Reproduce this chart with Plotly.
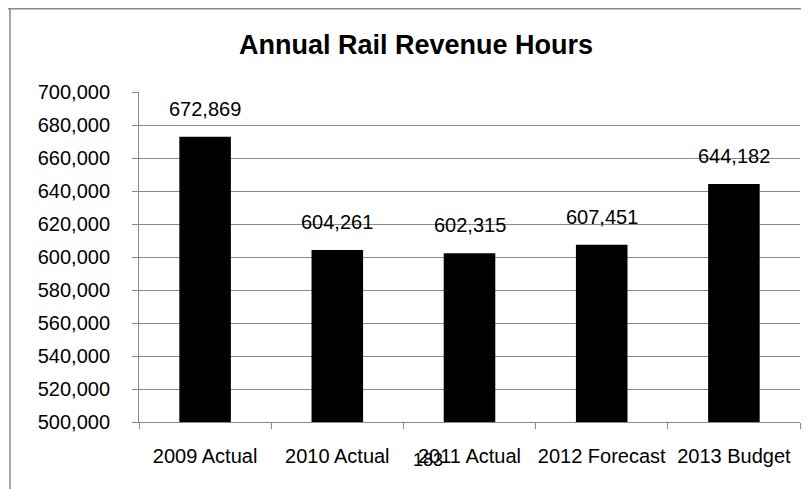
import plotly.graph_objects as go

categories = ["2009 Actual", "2010 Actual", "2011 Actual", "2012 Forecast", "2013 Budget"]
values = [672869, 604261, 602315, 607451, 644182]
y_ticks = list(range(500000, 700001, 20000))
y_tick_labels = [f"{v:,}" for v in y_ticks]
value_labels = [f"{v:,}" for v in values]
page_number = "183"

FONT = "Liberation Sans, Arial, sans-serif"
GRAY = "#898989"

fig = go.Figure(go.Bar(
    x=categories, y=values,
    marker=dict(color="black", line=dict(width=0)),
    width=0.39,
    cliponaxis=False,
    hoverinfo="x+y",
))

# the page body has an 8px margin; reference pixel p maps to figure pixel p - 8
OFF = 8
W, H = 801, 481
L, R, T, B = 139 - OFF, W - (800 - OFF), 92 - OFF, H - (422 - OFF)
pw, ph = W - L - R, H - T - B

def px_x(p):
    return (p - OFF - L) / pw

def px_y(p):
    return (H - B - (p - OFF)) / ph

annotations = [
    dict(x=c, y=v, xref="x", yref="y", text=t, showarrow=False,
         yshift=28, xanchor="center", yanchor="middle",
         font=dict(family=FONT, size=20, color="black"))
    for c, v, t in zip(categories, values, value_labels)
]
annotations.append(
    dict(text=page_number, xref="paper", yref="paper", x=px_x(428), y=px_y(460),
         showarrow=False, font=dict(family=FONT, size=18, color="black"),
         xanchor="center", yanchor="middle")
)

fig.update_layout(
    width=W, height=H,
    margin=dict(l=L, r=R, t=T, b=B, autoexpand=False),
    paper_bgcolor="white", plot_bgcolor="white",
    showlegend=False,
    title=dict(text="<b>Annual Rail Revenue Hours</b>", x=px_x(416), xref="paper",
               xanchor="center", y=1 - (45 - OFF) / H, yanchor="middle",
               font=dict(family=FONT, size=27, color="black")),
    xaxis=dict(
        type="category", showline=True, linecolor=GRAY, linewidth=1,
        ticks="outside", tickson="boundaries", ticklen=6, tickcolor=GRAY,
        tickangle=0,
        tickfont=dict(family=FONT, size=20, color="black"),
        ticklabelstandoff=16,
        showgrid=False, fixedrange=True,
    ),
    yaxis=dict(
        range=[500000, 700000], tickvals=y_ticks, ticktext=y_tick_labels,
        showline=True, linecolor=GRAY, linewidth=1,
        ticks="outside", ticklen=6, tickcolor=GRAY,
        ticklabelstandoff=18,
        showgrid=True, gridcolor=GRAY, gridwidth=1,
        tickfont=dict(family=FONT, size=20, color="black"),
        zeroline=False, fixedrange=True,
    ),
    shapes=[
        dict(type="line", xref="paper", yref="paper",
             x0=px_x(OFF), x1=px_x(809), y0=px_y(OFF + 0.75), y1=px_y(OFF + 0.75),
             line=dict(color=GRAY, width=1.5)),
        dict(type="line", xref="paper", yref="paper",
             x0=px_x(10), x1=px_x(10), y0=px_y(OFF), y1=px_y(489),
             line=dict(color=GRAY, width=1.5)),
    ],
    annotations=annotations,
)

fig.write_html("out.html")
